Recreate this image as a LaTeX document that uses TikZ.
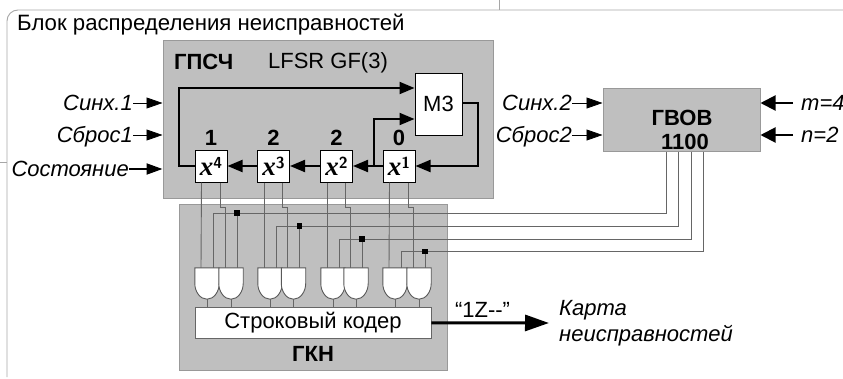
\documentclass[tikz,border=0pt]{standalone}
\usepackage{fontspec}
\setmainfont{Liberation Sans}
\newfontfamily\regfont{Liberation Serif}
\usetikzlibrary{arrows.meta, positioning, calc}

\begin{document}
\begin{tikzpicture}[x=1pt, y=-1pt,
    block/.style={rectangle, draw=gray!80, fill=gray!50!white, line width=1pt, inner sep=0pt},
    reg/.style={rectangle, draw, fill=white, line width=1pt, minimum width=32pt, minimum height=32pt, inner sep=0pt, font=\regfont\bfseries\itshape\fontsize{27}{28}\selectfont},
    whitebox/.style={rectangle, draw=gray!80!black, fill=white, line width=0.8pt, inner sep=0pt, font=\fontsize{22}{24}\selectfont},
    gate/.style={rectangle, inner sep=0pt, minimum width=24pt, minimum height=31pt, append after command={\pgfextra{\draw[draw=gray!70!black, fill=white, line width=0.9pt] (\tikzlastnode.north west) -- (\tikzlastnode.west) .. controls +(0,8) and +(-7,0) .. (\tikzlastnode.south) .. controls +(7,0) and +(0,8) .. (\tikzlastnode.east) -- (\tikzlastnode.north east) -- cycle;}}},
    tap/.style={rectangle, fill=black, minimum size=5.5pt, inner sep=0pt},
    lbl/.style={font=\itshape\fontsize{22}{26}\selectfont, inner sep=0pt, text height=15.5pt, text depth=0pt},
    head/.style={font=\bfseries\fontsize{22}{24}\selectfont, inner sep=0pt},
    frame/.style={draw=gray!70, line width=0.9pt},
    wire/.style={draw=black!60, line width=0.9pt},
    bus/.style={line width=2pt, -{Triangle[length=15pt,width=12pt]}},
    inp/.style={line width=0.7pt, -{Triangle[length=16pt,width=11pt]}},
    inpb/.style={line width=2pt, -{Triangle[length=16pt,width=11pt]}},
    cfg/.style={line width=2pt, -{Triangle[length=15pt,width=15pt]}},
    outp/.style={line width=3pt, -{Triangle[length=24pt,width=16pt]}}]
\useasboundingbox (0,0) rectangle (843,378);

% Outer frame
\draw[frame, rounded corners=11pt] (843,10) -- (7,10) -- (7,377);
\draw[frame] (0,162) -- (7,162);
\draw[frame] (499,0) -- (499,10);
\node[anchor=base west, inner sep=0pt, font=\fontsize{22.2}{24}\selectfont] (title) at (17,30) {Блок распределения неисправностей};

% Grey blocks
\node[block, minimum width=330pt, minimum height=157.5pt] (gpsch) at (328,119.25) {};
\node[block, minimum width=268pt, minimum height=166pt] (gkn) at (313,287) {};
\node[block, minimum width=157pt, minimum height=63pt] (gvob) at (681.5,119.5) {};
\node[head, anchor=west] (gpschname) at (174,62) {ГПСЧ};
\node[font=\fontsize{22}{24}\selectfont, inner sep=0pt] (lfsr) at (328,63) {LFSR GF(3)};
\node[head] (gkname) at (313,354) {ГКН};
\node[head] (gvobname) at (682,118) {ГВОВ};
\node[head] (gvobcode) at (685,142) {1100};

% Shift register
\node[reg] (x4) at (211,166) {x\raisebox{7pt}{\sffamily\upshape\fontsize{16}{16}\selectfont 4}};
\node[reg] (x3) at (273.5,166) {x\raisebox{7pt}{\sffamily\upshape\fontsize{16}{16}\selectfont 3}};
\node[reg] (x2) at (336.5,166) {x\raisebox{7pt}{\sffamily\upshape\fontsize{16}{16}\selectfont 2}};
\node[reg] (x1) at (399,166) {x\raisebox{7pt}{\sffamily\upshape\fontsize{16}{16}\selectfont 1}};
\node[whitebox, draw=black, line width=1pt, minimum width=47pt, minimum height=62pt] (m3) at (438.5,104) {М3};
\node[head] (n4) at (211,138) {1};
\node[head] (n3) at (273.5,138) {2};
\node[head] (n2) at (336.5,138) {2};
\node[head] (n1) at (399,138) {0};
\coordinate (c1) at (478,103);
\coordinate (c2) at (374,166);
\coordinate (c3) at (179,88);
\coordinate (c4) at (374,119);

% Register arrows
\draw[bus] (m3.east |- c1) -| (c1 |- x1) -- (x1);
\draw[bus] (x1) -- (x2);
\draw[bus] (x2) -- (x3);
\draw[bus] (x3) -- (x4);
\draw[bus] (x4) -| (c3) -- (c3 -| m3.west);
\draw[bus] (c2) -- (c4) -- (c4 -| m3.west);

% Inputs
\node[lbl, anchor=east] (sync1) at (133,103) {Синх.1};
\node[lbl, anchor=east] (reset1) at (133,135) {Сброс1};
\node[lbl, anchor=east] (state) at (129,169) {Состояние};
\node[lbl, anchor=east] (sync2) at (572,103) {Синх.2};
\node[lbl, anchor=east] (reset2) at (572,135) {Сброс2};
\node[lbl, anchor=west] (parm) at (801,103) {m=4};
\node[lbl, anchor=west] (parn) at (801,135) {n=2};
\draw[inp] (sync1) -- (sync1 -| gpsch.west);
\draw[inp] (reset1) -- (reset1 -| gpsch.west);
\draw[inpb] (state) -- (state -| gpsch.west);
\draw[inp] (sync2) -- (sync2 -| gvob.west);
\draw[inp] (reset2) -- (reset2 -| gvob.west);
\draw[cfg] ([xshift=-8pt]parm.west) -- (parm -| gvob.east);
\draw[cfg] ([xshift=-8pt]parn.west) -- (parn -| gvob.east);

% Gates and coder
\node[gate] (g1) at (207,283.5) {};
\node[gate] (g2) at (231,283.5) {};
\node[gate] (g3) at (270,283.5) {};
\node[gate] (g4) at (293.5,283.5) {};
\node[gate] (g5) at (333,283.5) {};
\node[gate] (g6) at (356,283.5) {};
\node[gate] (g7) at (395,283.5) {};
\node[gate] (g8) at (419,283.5) {};
\node[whitebox, minimum width=236pt, minimum height=31pt] (coder) at (313,322.5) {Строковый кодер};
\foreach \g in {g1,g2,g3,g4,g5,g6,g7,g8}
  \draw[wire] (\g.south) -- (\g.south |- coder.north);

% Wires from the register
\coordinate (j2) at (225,207);
\coordinate (j4) at (287.5,207);
\coordinate (j6) at (350,207);
\coordinate (j8) at (413,207);
\draw[wire] ([xshift=-9.5pt]x4.south) -- ([xshift=-6pt]g1.north);
\draw[wire] ([xshift=9pt]x4.south) |- (j2) -- ([xshift=-6pt]g2.north);
\draw[wire] ([xshift=-9.5pt]x3.south) -- ([xshift=-6pt]g3.north);
\draw[wire] ([xshift=9pt]x3.south) |- (j4) -- ([xshift=-6pt]g4.north);
\draw[wire] ([xshift=-9.5pt]x2.south) -- ([xshift=-6pt]g5.north);
\draw[wire] ([xshift=9pt]x2.south) |- (j6) -- ([xshift=-6pt]g6.north);
\draw[wire] ([xshift=-9.5pt]x1.south) -- ([xshift=-6pt]g7.north);
\draw[wire] ([xshift=9pt]x1.south) |- (j8) -- ([xshift=-6pt]g8.north);

% Wires from the vector generator
\node[tap] (d1) at (237,213) {};
\node[tap] (d2) at (299.5,226) {};
\node[tap] (d3) at (362,239) {};
\node[tap] (d4) at (425,251.5) {};
\draw[wire] ([xshift=-15.5pt]gvob.south) |- (d1);
\draw[wire] ([xshift=-3.5pt]gvob.south) |- (d2);
\draw[wire] ([xshift=9.5pt]gvob.south) |- (d3);
\draw[wire] ([xshift=21.5pt]gvob.south) |- (d4);
\draw[wire] (d1) -| ([xshift=6pt]g1.north);
\draw[wire] (d2) -| ([xshift=6pt]g3.north);
\draw[wire] (d3) -| ([xshift=6pt]g5.north);
\draw[wire] (d4) -| ([xshift=6pt]g7.north);
\draw[wire] (d1) -- (d1 |- g2.north);
\draw[wire] (d2) -- (d2 |- g4.north);
\draw[wire] (d3) -- (d3 |- g6.north);
\draw[wire] (d4) -- (d4 |- g8.north);

% Output
\node[anchor=west, inner sep=0pt, font=\itshape\fontsize{22}{26}\selectfont, align=left] (map) at (559,323) {Карта\\неисправностей};
\draw[outp] (coder) -- ([xshift=-10pt]map.west);
\node[font=\fontsize{22}{24}\selectfont, inner sep=0pt] (code) at (482.5,310) {“1Z{-}{-}”};
\end{tikzpicture}
\end{document}
